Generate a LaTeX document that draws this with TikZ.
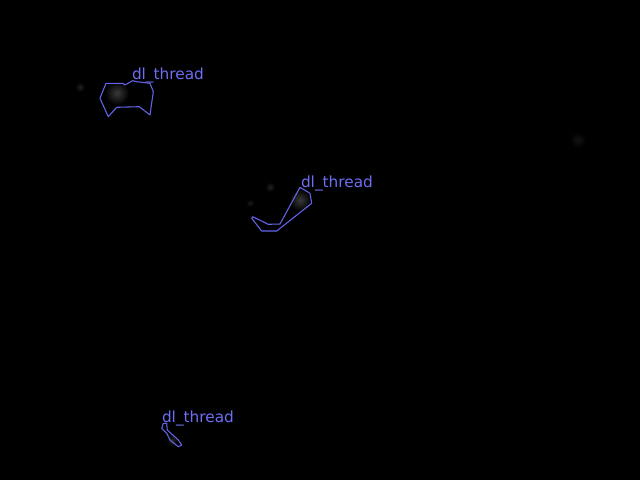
\documentclass[tikz,border=0pt]{standalone}
\usepackage{fontspec}
\setmainfont{DejaVu Sans}
\definecolor{outl}{RGB}{100,100,235}
\definecolor{lbl}{RGB}{110,110,245}
\begin{document}
\begin{tikzpicture}[x=0.75pt,y=-0.75pt,
  region/.style={draw=outl,line width=0.8pt,line join=round},
  lab/.style={text=lbl,font=\fontsize{11.5}{12}\selectfont,anchor=base west,inner sep=0pt,outer sep=0pt},
  glow/.style={inner color=gray!45!black,outer color=black}]
\fill[black] (0,0) rectangle (640,480);
\useasboundingbox (0,0) rectangle (640,480);
% faint background blobs
\shade[glow] (117,93) circle (12);
\shade[glow] (300,200) circle (11);
\shade[inner color=gray!30!black,outer color=black] (172,440) circle (6);
\shade[inner color=gray!25!black,outer color=black] (80,87) circle (5);
\shade[inner color=gray!25!black,outer color=black] (270,187) circle (5);
\shade[inner color=gray!20!black,outer color=black] (250,203) circle (4);
\shade[inner color=gray!15!black,outer color=black] (578,140) circle (8);
% region 1
\draw[region] (106,83.3) -- (123.3,83.3) -- (125,85) -- (132.7,80.7) -- (136.7,81.7)
  -- (150,83.3) -- (153.3,91.7) -- (150,115) -- (139.3,106.7) -- (116.7,107.3)
  -- (108.3,116.7) -- (100,98.3) -- cycle;
\node[lab] (l1) at (132,79.5) {dl\_thread};
% region 2
\draw[region] (300,187.3) -- (310,193.3) -- (311.7,203.3) -- (276.7,231) -- (261.7,231)
  -- (251.7,218.3) -- (252.7,216.7) -- (268.3,224.3) -- (280,224) -- cycle;
\node[lab] (l2) at (301,187.5) {dl\_thread};
% region 3
\draw[region] (163.3,423.3) -- (166.7,423.3) -- (167.3,430) -- (178.3,440) -- (181.7,445)
  -- (178.3,446.7) -- (170,440) -- (166.7,433.3) -- (161.7,428.3) -- cycle;
\node[lab] (l3) at (162,422.3) {dl\_thread};
\end{tikzpicture}
\end{document}
